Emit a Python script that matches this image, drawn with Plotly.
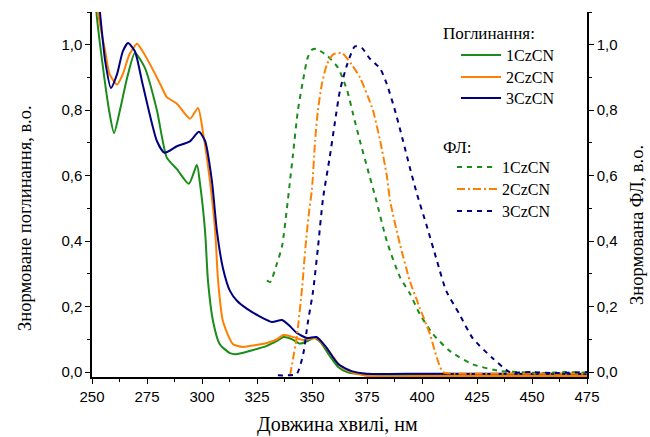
import plotly.graph_objects as go

# ---- data ----
abs1_x = [250, 252, 255, 258, 260, 262.7, 266, 269.5, 274, 279.5, 284, 288.6, 294, 297.7, 299, 301.4, 302.7, 305, 308, 312.7, 316, 322, 329.5, 334, 337, 341, 344.5, 348, 351, 354, 358, 362, 366, 370, 380, 400, 425, 450, 475]
abs1_y = [1.35, 1.1, 0.93, 0.79, 0.73, 0.80, 0.90, 0.975, 0.93, 0.80, 0.655, 0.62, 0.575, 0.633, 0.58, 0.43, 0.28, 0.156, 0.086, 0.058, 0.055, 0.065, 0.08, 0.095, 0.107, 0.1, 0.087, 0.095, 0.104, 0.09, 0.05, 0.015, 0.0, -0.005, -0.008, -0.008, -0.008, -0.008, -0.008]

abs2_x = [250, 252.7, 256, 258, 261.4, 264, 267, 270.5, 273, 276.4, 281, 284, 288.6, 294.5, 298.2, 300.5, 303.6, 306, 307.3, 309.5, 314, 318.6, 324, 329.5, 334, 337, 341, 346, 352, 357, 363, 368, 375, 400, 425, 450, 475]
abs2_y = [1.35, 1.1, 0.98, 0.91, 0.878, 0.91, 0.97, 1.003, 0.98, 0.94, 0.88, 0.84, 0.82, 0.774, 0.807, 0.73, 0.584, 0.43, 0.28, 0.156, 0.086, 0.077, 0.082, 0.089, 0.1, 0.113, 0.108, 0.098, 0.104, 0.07, 0.018, 0.0, -0.012, -0.012, -0.012, -0.012, -0.012]

abs3_x = [250, 253.6, 256, 258.6, 261.4, 264, 266.4, 269.5, 273, 279.5, 283, 288.6, 294.5, 298.6, 301.4, 304.5, 306.8, 309.5, 312.7, 316, 320.5, 326, 331.8, 336.4, 340, 343, 347.7, 352, 356, 362, 368, 375, 400, 425, 450, 475]
abs3_y = [1.35, 1.1, 0.95, 0.868, 0.91, 0.98, 1.005, 0.98, 0.88, 0.706, 0.67, 0.69, 0.705, 0.734, 0.706, 0.584, 0.43, 0.318, 0.248, 0.217, 0.193, 0.171, 0.153, 0.159, 0.14, 0.12, 0.104, 0.107, 0.08, 0.024, 0.003, -0.005, -0.005, -0.005, -0.005, -0.005]

fl1_x = [329.5, 331, 334, 336.4, 338.6, 340, 341.4, 343.6, 345.9, 348, 350, 352, 354, 357, 361.8, 366, 368.6, 371.8, 375.5, 379, 384, 390, 394.5, 399, 405, 412.7, 423, 435.5, 445, 455, 465, 475]
fl1_y = [0.28, 0.275, 0.33, 0.385, 0.50, 0.584, 0.667, 0.80, 0.89, 0.96, 0.985, 0.988, 0.98, 0.966, 0.93, 0.86, 0.79, 0.706, 0.615, 0.53, 0.40, 0.29, 0.24, 0.177, 0.116, 0.064, 0.024, 0.003, 0.0, -0.003, 0.0, -0.002]

fl2_x = [340, 343, 345.5, 347, 348.5, 350, 351.4, 352.7, 354.5, 356.8, 359.5, 363.6, 368, 371.8, 375.5, 377.7, 381, 384, 385.5, 390, 394.5, 399, 403.6, 406.8, 409.5, 415, 425, 440, 455, 475]
fl2_y = [-0.01, 0.104, 0.257, 0.38, 0.48, 0.56, 0.706, 0.80, 0.88, 0.94, 0.97, 0.975, 0.94, 0.90, 0.84, 0.80, 0.706, 0.60, 0.523, 0.39, 0.278, 0.196, 0.116, 0.043, 0.0, -0.005, -0.005, -0.005, -0.005, -0.005]

fl3_x = [334.5, 338, 343, 346, 348, 350.5, 352.7, 355, 358, 360.5, 362.7, 366, 369.5, 372.7, 376, 381, 384, 387.7, 391.4, 394.5, 397.7, 402, 406.8, 411, 417, 423, 432, 440, 450, 460, 475]
fl3_y = [-0.01, -0.01, -0.006, 0.055, 0.147, 0.248, 0.38, 0.53, 0.654, 0.767, 0.86, 0.94, 0.995, 0.99, 0.96, 0.927, 0.88, 0.80, 0.706, 0.624, 0.544, 0.45, 0.34, 0.248, 0.177, 0.104, 0.043, 0.0, 0.0, -0.003, 0.0]

names = ["1CzCN", "2CzCN", "3CzCN"]
colors = ["#1a8c1a", "#ff8000", "#000080"]

y_ticks = [0, 0.2, 0.4, 0.6, 0.8, 1.0]
y_ticktext = ["0,0", "0,2", "0,4", "0,6", "0,8", "1,0"]
x_ticks = [250, 275, 300, 325, 350, 375, 400, 425, 450, 475]

x_title = "Довжина хвилі, нм"
y_title = "Знормоване поглинання, в.о."
y2_title = "Знормована ФЛ, в.о."
leg1_title = "Поглинання:"
leg2_title = "ФЛ:"

SERIF = "Liberation Serif, Times New Roman, serif"
SANS = "Liberation Sans, Arial, sans-serif"

L, R, T, B = 92, 63, 12, 60
W, H = 650, 437
pw, ph = W - L - R, H - T - B


def px_x(p):
    return (p - L) / pw


def px_y(p):
    return (H - B - p) / ph


# legend item centres (pixels) for each trace
abs_leg_y = [55, 77, 98]
fl_leg_y = [167, 189, 211]
LEG_FONT = 16
LEG_OFF = 17

fig = go.Figure()
legend_layouts = {}
k = 0
for xs, ys, n, c, ly in zip([abs1_x, abs2_x, abs3_x], [abs1_y, abs2_y, abs3_y], names, colors, abs_leg_y):
    k += 1
    lname = "legend" if k == 1 else f"legend{k}"
    fig.add_trace(go.Scatter(x=xs, y=ys, name=n, mode="lines", showlegend=True,
                             line=dict(color=c, width=2, shape="spline", smoothing=0.6),
                             legend=lname))
    legend_layouts[lname] = dict(x=px_x(456), y=px_y(ly - LEG_OFF), xanchor="left", yanchor="top",
                                 font=dict(family=SERIF, size=LEG_FONT, color="black"),
                                 bgcolor="rgba(0,0,0,0)", itemwidth=40)
dashes = ["5px,5px", "8px,3px,2px,3px", "5px,5px"]
for xs, ys, n, c, d, ly in zip([fl1_x, fl2_x, fl3_x], [fl1_y, fl2_y, fl3_y], names, colors, dashes, fl_leg_y):
    k += 1
    lname = f"legend{k}"
    fig.add_trace(go.Scatter(x=xs, y=ys, name=n, mode="lines", yaxis="y2", showlegend=True,
                             line=dict(color=c, width=2, dash=d, shape="spline", smoothing=0.6),
                             legend=lname))
    legend_layouts[lname] = dict(x=px_x(452), y=px_y(ly - LEG_OFF), xanchor="left", yanchor="top",
                                 font=dict(family=SERIF, size=LEG_FONT, color="black"),
                                 bgcolor="rgba(0,0,0,0)", itemwidth=40)

axis_common = dict(showline=True, linecolor="black", linewidth=1.5, ticks="outside",
                   ticklen=5, tickwidth=1.2, tickcolor="black", showgrid=False, zeroline=False,
                   tickfont=dict(family=SANS, size=15, color="black"))

fig.update_layout(
    width=W, height=H, margin=dict(l=L, r=R, t=T, b=B),
    paper_bgcolor="white", plot_bgcolor="white", showlegend=True,
    xaxis=dict(range=[250, 475], tickvals=x_ticks, **axis_common,
               minor=dict(dtick=12.5, ticklen=3, tickcolor="black", ticks="outside", tick0=250)),
    yaxis=dict(range=[-0.015, 1.1], tickvals=y_ticks, ticktext=y_ticktext, **axis_common,
               minor=dict(dtick=0.1, tick0=0, ticklen=3, tickcolor="black", ticks="outside")),
    yaxis2=dict(range=[-0.015, 1.1], tickvals=y_ticks, ticktext=y_ticktext, overlaying="y",
                side="right", **axis_common,
                minor=dict(dtick=0.1, tick0=0, ticklen=3, tickcolor="black", ticks="outside")),
    annotations=[
        dict(text=leg1_title, xref="paper", yref="paper", x=px_x(441), y=px_y(33),
             xanchor="left", yanchor="middle", showarrow=False,
             font=dict(family=SERIF, size=17, color="black")),
        dict(text=leg2_title, xref="paper", yref="paper", x=px_x(441), y=px_y(147),
             xanchor="left", yanchor="middle", showarrow=False,
             font=dict(family=SERIF, size=17, color="black")),
        dict(text=x_title, xref="paper", yref="paper", x=px_x(337), y=px_y(424),
             xanchor="center", yanchor="middle", showarrow=False,
             font=dict(family=SERIF, size=20, color="black")),
        dict(text=y_title, xref="paper", yref="paper", x=px_x(25), y=px_y(218),
             xanchor="center", yanchor="middle", showarrow=False, textangle=-90,
             font=dict(family=SERIF, size=18.5, color="black")),
        dict(text=y2_title, xref="paper", yref="paper", x=px_x(637), y=px_y(225),
             xanchor="center", yanchor="middle", showarrow=False, textangle=-90,
             font=dict(family=SERIF, size=18.5, color="black")),
    ],
)
fig.update_layout(**legend_layouts)

fig.write_html("out.html")
